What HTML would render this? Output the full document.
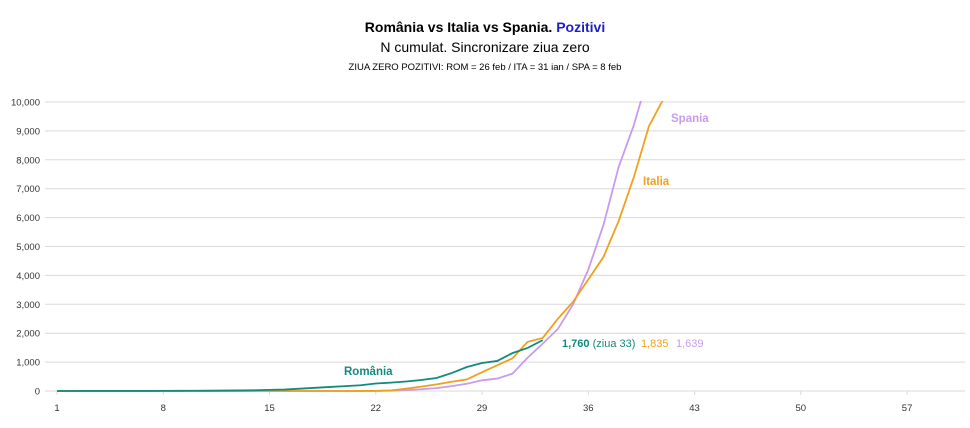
<!DOCTYPE html>
<html><head><meta charset="utf-8"><style>
body{margin:0;background:#fff;width:970px;height:423px;overflow:hidden;font-family:"Liberation Sans",sans-serif}
</style></head><body>
<svg id="chart" width="970" height="423" xmlns="http://www.w3.org/2000/svg">
<text x="485" y="32" text-anchor="middle" font-size="14" font-weight="bold" fill="#000">România vs Italia vs Spania. <tspan fill="#1f1fc8">Pozitivi</tspan></text>
<text x="485" y="52" text-anchor="middle" font-size="14" fill="#000">N cumulat. Sincronizare ziua zero</text>
<text x="485" y="70" text-anchor="middle" font-size="9.5" fill="#000">ZIUA ZERO POZITIVI: ROM = 26 feb / ITA = 31 ian / SPA = 8 feb</text>
<defs><clipPath id="pc"><rect x="45" y="101" width="925" height="300"/></clipPath></defs>
<g id="grid"></g><g id="lines" clip-path="url(#pc)"></g><g id="labels"></g>
</svg>
<script>
const xTicks=[1,8,15,22,29,36,43,50,57];
const yTicks=[0,1000,2000,3000,4000,5000,6000,7000,8000,9000,10000];
const romDays=[1,2,3,4,5,6,7,8,9,10,11,12,13,14,15,16,17,18,19,20,21,22,23,24,25,26,27,28,29,30,31,32,33];
const romVals=[1,1,3,3,3,3,3,4,6,9,10,15,20,25,40,50,80,110,140,170,200,260,290,330,380,450,620,830,970,1040,1310,1490,1760];
const itaDays=[1,20,21,22,23,24,25,26,27,28,29,30,31,32,33,34,35,36,37,38,39,40,41,42];
const itaVals=[0,0,3,5,20,80,150,230,320,400,650,890,1130,1700,1835,2500,3090,3860,4640,5880,7400,9170,10150,12460];
const spaDays=[1,20,21,22,23,24,25,26,27,28,29,30,31,32,33,34,35,36,37,38,39,40];
const spaVals=[0,0,1,2,10,30,60,100,170,250,370,430,600,1150,1639,2150,3000,4200,5750,7750,9200,11000];
const X=d=>57+(d-1)*15.18, Y=v=>391-v*0.0289;
const ns="http://www.w3.org/2000/svg";
const g=document.getElementById('grid'),L=document.getElementById('lines'),lab=document.getElementById('labels');
function mk(t,a,p){const e=document.createElementNS(ns,t);for(const k in a)e.setAttribute(k,a[k]);p.appendChild(e);return e;}
yTicks.forEach(v=>{
 const l=mk('line',{x1:45,x2:965,y1:Y(v),y2:Y(v),stroke:'#d9d9d9','stroke-width':1},g);
 
 
 const t=mk('text',{x:40,y:Y(v)+3.5,'text-anchor':'end','font-size':9.5,fill:'#333'},g);t.textContent=v.toLocaleString('en-US');
 
 
});
xTicks.forEach(d=>{
 const t=mk('text',{x:X(d),y:411,'text-anchor':'middle','font-size':9.5,fill:'#333'},g);t.textContent=d;
 
 
 const k=mk('line',{x1:X(d),x2:X(d),y1:391,y2:395,stroke:'#d9d9d9'},g);
 
 
});
function line(days,vals,col,name){
 const p=mk('polyline',{points:days.map((d,i)=>X(d)+','+Y(vals[i])).join(' '),fill:'none',stroke:col,'stroke-width':1.8},L);
 
 
}
line(spaDays,spaVals,'#c89bef','spania-line');
line(itaDays,itaVals,'#f0a01c','italia-line');
line(romDays,romVals,'#138a7e','romania-line');
function txt(x,y,s,col,w,name){const t=mk('text',{x:x,y:y,'font-size':11,fill:col,'font-weight':w},lab);t.textContent=s;
 
 return t;}
txt(344,375,'România','#138a7e','bold','romania-label').setAttribute('font-size','11.5');
txt(643,185,'Italia','#f0a01c','bold','italia-label').setAttribute('font-size','11.5');
txt(671,122,'Spania','#c89bef','bold','spania-label').setAttribute('font-size','11.5');
const e=txt(562,347,'','#138a7e','bold','romania-end-value');
e.innerHTML='1,760 <tspan font-weight="normal">(ziua 33)</tspan>';
txt(641,347,'1,835','#f0a01c','normal','italia-end-value');
txt(676,347,'1,639','#c89bef','normal','spania-end-value');
</script>
</body></html>
